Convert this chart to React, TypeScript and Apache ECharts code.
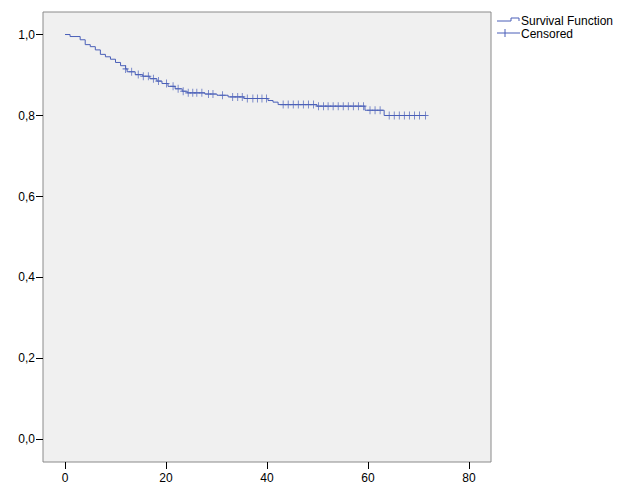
import React, { useEffect, useRef } from "react";
import * as echarts from "echarts";

// Kaplan-Meier event times (months) and survival after each time
const eventTimes = [0, 1, 3, 4, 5, 6, 7, 8, 9, 10, 11, 12, 12.3, 13.9, 15.4, 16.8, 18.2, 19.2, 20.4, 21.8, 23.2, 24.2, 27.7, 30.1, 32.3, 35.4, 40.2, 41.2, 42.2, 49.9, 59.4, 63.2, 71.4];
const survival = [1.0, 0.995, 0.987, 0.975, 0.97, 0.962, 0.951, 0.945, 0.939, 0.931, 0.923, 0.915, 0.908, 0.901, 0.897, 0.891, 0.885, 0.879, 0.872, 0.866, 0.86, 0.856, 0.853, 0.85, 0.846, 0.842, 0.837, 0.833, 0.827, 0.823, 0.813, 0.8, 0.8];

// Censored observation times
const censoredTimes = [12.0, 13.2, 14.5, 15.5, 16.5, 17.5, 18.5, 20.1, 21.4, 22.4, 23.4, 24.4, 25.3, 26.1, 27.1, 28.4, 29.3, 31.2, 33.2, 34.2, 35.1, 36.1, 37.2, 38.1, 39.0, 39.9, 43.2, 44.2, 45.2, 46.2, 47.2, 48.2, 49.2, 50.2, 51.2, 52.1, 53.1, 54.1, 55.1, 56.1, 57.1, 58.1, 59.1, 60.4, 61.4, 62.4, 64.2, 65.2, 66.2, 67.2, 68.2, 69.2, 70.2, 71.4];

const xTicks = [0, 20, 40, 60, 80];
const yTicks = [0, 0.2, 0.4, 0.6, 0.8, 1.0];
const legendLabels = ["Survival Function", "Censored"];

const LINE = "#4A5FB8";
const FONT = "Arial, 'Liberation Sans', sans-serif";

function survAt(t: number): number {
  let s = survival[0];
  for (let i = 0; i < eventTimes.length; i++) {
    if (eventTimes[i] <= t) s = survival[i];
  }
  return s;
}

export default function App() {
  const ref = useRef<HTMLDivElement>(null);
  useEffect(() => {
    document.body.style.margin = "0";
    const chart = echarts.init(ref.current!, null, { renderer: "svg" });
    const stepData = eventTimes.map((t, i) => [t, survival[i]]);
    const censData = censoredTimes.map((t) => [t, survAt(t)]);
    chart.setOption({
      animation: false,
      backgroundColor: "#ffffff",
      grid: {
        left: 43,
        top: 12,
        width: 448,
        height: 450,
        show: true,
        backgroundColor: "#F0F0F0",
        borderColor: "#8A8A8A",
        borderWidth: 1,
      },
      xAxis: {
        type: "value",
        min: -4.36,
        max: 84.36,
        axisLine: { show: false, onZero: false },
        splitLine: { show: false },
        axisTick: {
          show: true,
          length: 7,
          lineStyle: { color: "#000" },
          customValues: xTicks,
        },
        axisLabel: {
          customValues: xTicks,
          color: "#000",
          fontSize: 12,
          fontFamily: FONT,
          margin: 10,
        },
      },
      yAxis: {
        type: "value",
        min: -0.0556,
        max: 1.0556,
        axisLine: { show: false, onZero: false },
        splitLine: { show: false },
        axisTick: {
          show: true,
          length: 7,
          lineStyle: { color: "#000" },
          customValues: yTicks,
        },
        axisLabel: {
          customValues: yTicks,
          color: "#000",
          fontSize: 12,
          fontFamily: FONT,
          margin: 8,
          formatter: (v: number) => v.toFixed(1).replace(".", ","),
        },
      },
      series: [
        {
          name: legendLabels[0],
          type: "line",
          step: "end",
          data: stepData,
          showSymbol: false,
          symbol: "none",
          lineStyle: { color: LINE, width: 1 },
          silent: true,
        },
        {
          name: legendLabels[1],
          type: "scatter",
          data: censData,
          symbol: "path://M5,0V10M0,5H10",
          symbolSize: [6, 8],
          itemStyle: { color: "transparent", borderColor: LINE, borderWidth: 1 },
          silent: true,
        },
      ],
      graphic: [
        {
          type: "polyline",
          shape: { points: [[497, 21], [511, 21], [511, 18], [519, 18], [519, 21]] },
          style: { stroke: LINE, lineWidth: 1, fill: "none" },
        },
        {
          type: "line",
          shape: { x1: 497, y1: 33, x2: 520, y2: 33 },
          style: { stroke: LINE, lineWidth: 1 },
        },
        {
          type: "line",
          shape: { x1: 505, y1: 29, x2: 505, y2: 37 },
          style: { stroke: LINE, lineWidth: 1 },
        },
        {
          type: "text",
          x: 521,
          y: 21,
          style: { text: legendLabels[0], fill: "#000", font: `12px ${FONT}`, verticalAlign: "middle" },
        },
        {
          type: "text",
          x: 521,
          y: 34,
          style: { text: legendLabels[1], fill: "#000", font: `12px ${FONT}`, verticalAlign: "middle" },
        },
      ],
    });
    return () => chart.dispose();
  }, []);
  return <div ref={ref} style={{ position: "fixed", left: 0, top: 0, width: 621, height: 494 }} />;
}
